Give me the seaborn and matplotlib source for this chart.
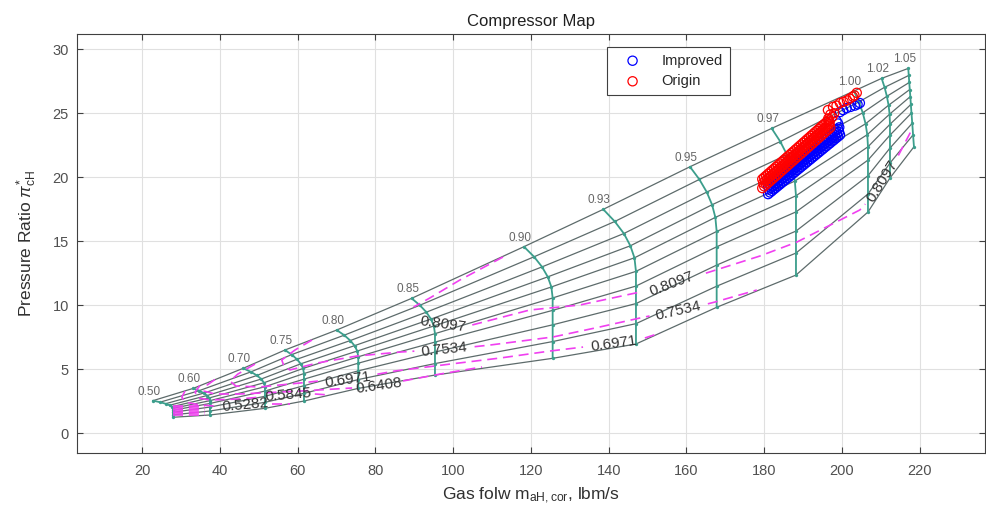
import matplotlib
matplotlib.use("Agg")
import matplotlib.pyplot as plt
import seaborn as sns

# ---------------- data: speed lines (corrected speed), 10 points each ----------------
speed_labels = ["0.50", "0.60", "0.70", "0.75", "0.80", "0.85", "0.90",
                "0.93", "0.95", "0.97", "1.00", "1.02", "1.05"]

flow_n050 = [22.77, 24.59, 26.01, 27.04, 27.68, 27.91, 27.91, 27.91, 27.91, 27.91]
pr_n050 = [2.53, 2.41, 2.29, 2.17, 2.06, 1.93, 1.78, 1.62, 1.42, 1.23]
flow_n060 = [33.13, 34.65, 35.83, 36.68, 37.22, 37.43, 37.43, 37.43, 37.43, 37.43]
pr_n060 = [3.49, 3.31, 3.12, 2.93, 2.74, 2.53, 2.31, 2.03, 1.72, 1.41]
flow_n070 = [45.99, 47.97, 49.52, 50.62, 51.32, 51.58, 51.58, 51.58, 51.58, 51.58]
pr_n070 = [5.06, 4.78, 4.50, 4.22, 3.93, 3.62, 3.28, 2.87, 2.40, 1.93]
flow_n075 = [56.72, 58.44, 59.81, 60.78, 61.38, 61.61, 61.61, 61.61, 61.61, 61.61]
pr_n075 = [6.49, 6.13, 5.77, 5.41, 5.05, 4.65, 4.21, 3.70, 3.10, 2.50]
flow_n080 = [70.02, 71.97, 73.52, 74.62, 75.32, 75.58, 75.58, 75.58, 75.58, 75.58]
pr_n080 = [8.05, 7.65, 7.23, 6.83, 6.41, 5.96, 5.46, 4.86, 4.18, 3.49]
flow_n085 = [89.31, 91.42, 93.09, 94.28, 95.02, 95.31, 95.31, 95.31, 95.31, 95.31]
pr_n085 = [10.53, 9.99, 9.45, 8.91, 8.37, 7.77, 7.11, 6.33, 5.43, 4.53]
flow_n090 = [118.20, 120.80, 122.85, 124.32, 125.25, 125.58, 125.58, 125.58, 125.58, 125.58]
pr_n090 = [14.57, 13.78, 12.99, 12.21, 11.42, 10.56, 9.59, 8.46, 7.15, 5.84]
flow_n093 = [138.60, 141.56, 143.90, 145.57, 146.62, 147.01, 147.01, 147.01, 147.01, 147.01]
pr_n093 = [17.49, 16.54, 15.60, 14.64, 13.70, 12.64, 11.49, 10.12, 8.55, 6.96]
flow_n095 = [160.90, 163.32, 165.22, 166.59, 167.43, 167.77, 167.77, 167.77, 167.77, 167.77]
pr_n095 = [20.82, 19.83, 18.84, 17.85, 16.86, 15.76, 14.56, 13.13, 11.48, 9.83]
flow_n097 = [181.92, 184.13, 185.85, 187.09, 187.88, 188.17, 188.17, 188.17, 188.17, 188.17]
pr_n097 = [23.82, 22.79, 21.76, 20.73, 19.70, 18.55, 17.29, 15.79, 14.07, 12.35]
flow_n100 = [203.09, 204.35, 205.35, 206.07, 206.51, 206.69, 206.69, 206.69, 206.69, 206.69]
pr_n100 = [26.74, 25.89, 25.04, 24.18, 23.33, 22.38, 21.34, 20.12, 18.69, 17.28]
flow_n102 = [210.21, 210.96, 211.55, 211.99, 212.25, 212.35, 212.35, 212.35, 212.35, 212.35]
pr_n102 = [27.73, 27.03, 26.33, 25.63, 24.93, 24.14, 23.29, 22.28, 21.11, 19.94]
flow_n105 = [217.05, 217.18, 217.31, 217.44, 217.59, 217.72, 217.88, 218.08, 218.29, 218.52]
pr_n105 = [28.51, 27.96, 27.41, 26.86, 26.31, 25.69, 25.02, 24.22, 23.31, 22.38]

speed_flows = [flow_n050, flow_n060, flow_n070, flow_n075, flow_n080, flow_n085, flow_n090,
               flow_n093, flow_n095, flow_n097, flow_n100, flow_n102, flow_n105]
speed_prs = [pr_n050, pr_n060, pr_n070, pr_n075, pr_n080, pr_n085, pr_n090,
             pr_n093, pr_n095, pr_n097, pr_n100, pr_n102, pr_n105]

# ---------------- data: efficiency contour pieces ----------------
eff_8097_x = [[112.8, 101.7, 94.0, 89.8],
              [104.9, 119.7, 132.6, 148.0],
              [165.0, 178.9, 188.4, 204.6, 206.0],
              [214.5, 218.2]]
eff_8097_y = [[13.76, 11.96, 10.56, 9.85],
              [8.45, 9.62, 10.01, 11.02],
              [12.50, 13.84, 14.93, 17.44, 17.90],
              [21.70, 23.85]]
eff_7534_x = [[63.67, 59.3, 55.9, 56.5, 58.0, 64.95, 75.2, 86.3, 90.0],
              [105.5, 109.5, 125.7, 137.7, 148.0, 150.5],
              [165.5, 167.3, 178.1]]
eff_7534_y = [[7.27, 6.49, 5.71, 5.20, 4.93, 5.47, 6.02, 6.33, 6.40],
              [6.75, 6.88, 7.51, 8.29, 8.99, 9.15],
              [10.10, 10.24, 11.18]]
eff_6971_x = [[49.0, 44.6, 42.6, 44.1, 50.3, 60.6, 65.2],
              [80.5, 85.0, 99.2, 112.0, 124.9, 133.4],
              [149.3, 153.2]]
eff_6971_y = [[5.39, 4.61, 4.06, 3.67, 3.60, 3.91, 4.06],
              [4.60, 4.85, 5.39, 5.86, 6.41, 6.72],
              [7.43, 7.82]]
eff_6408_x = [[38.7, 36.7, 35.9, 38.7, 45.1, 60.6, 74.0],
              [87.1, 96.6, 107.4]]
eff_6408_y = [[4.18, 3.75, 3.28, 3.05, 3.05, 3.28, 3.52],
              [4.07, 4.61, 5.16]]
eff_5845_x = [[34.85, 33.6, 34.3, 37.4, 45.1, 50.3],
              [64.4, 68.3]]
eff_5845_y = [[3.71, 3.21, 2.74, 2.58, 2.66, 2.81],
              [3.05, 2.97]]
eff_5282_x = [[31.0, 30.2, 31.0, 34.9, 38.7],
              [53.4, 58.0]]
eff_5282_y = [[3.28, 2.81, 2.42, 2.19, 2.11],
              [2.27, 2.27]]
# lower (unlabelled) efficiency levels crowded near the low-speed corner
eff_low_x = [[27.9, 36.1], [27.9, 36.1], [27.9, 36.1], [27.9, 36.1],
             [27.9, 36.1], [27.9, 36.1], [27.9, 36.1]]
eff_low_y = [[2.14, 2.14], [2.02, 2.02], [1.90, 1.90], [1.78, 1.78],
             [1.66, 1.66], [1.54, 1.54], [1.43, 1.43]]

eff_label_text = ["0.8097", "0.8097", "0.8097", "0.7534", "0.7534", "0.6971", "0.6971",
                  "0.6408", "0.5845", "0.5282"]
eff_label_x = [97.3, 156.3, 210.4, 97.6, 157.9, 73.0, 141.3, 80.9, 57.5, 46.4]
eff_label_y = [8.52, 11.65, 19.70, 6.49, 9.56, 4.14, 6.96, 3.67, 2.97, 2.19]
eff_label_rot = [-8, 21, 58, 6, 13, 8, 8, 8, 5, 5]

# ---------------- data: operating points ----------------
improved_flow = ([181.0, 181.5, 182.0, 182.5, 183.0, 183.5, 184.0, 184.5, 185.0, 185.5,
                  186.0, 186.5, 187.0, 187.5, 188.0, 188.5, 189.0, 189.5, 190.0, 190.5,
                  191.0, 191.5, 192.0, 192.5, 193.0, 193.5, 194.0, 194.5, 195.0, 195.5,
                  196.0, 196.5, 197.0, 197.5, 198.0, 198.5, 199.0, 199.5]
                 + [181.25, 181.75, 182.25, 182.75, 183.25, 183.75, 184.25, 184.75, 185.25,
                    185.75, 186.25, 186.75, 187.25, 187.75, 188.25, 188.75, 189.25, 189.75,
                    190.25, 190.75, 191.25, 191.75, 192.25, 192.75, 193.25, 193.75, 194.25,
                    194.75, 195.25, 195.75, 196.25, 196.75, 197.25, 197.75, 198.25, 198.75,
                    199.25]
                 + [181.0, 181.5, 182.0, 182.5, 183.0, 183.5, 184.0, 184.5, 185.0, 185.5,
                    186.0, 186.5, 187.0, 187.5, 188.0, 188.5, 189.0, 189.5, 190.0, 190.5,
                    191.0, 191.5, 192.0, 192.5, 193.0, 193.5, 194.0, 194.5, 195.0, 195.5,
                    196.0, 196.5, 197.0, 197.5, 198.0, 198.5, 199.0]
                 + [199.3, 199.0, 198.6, 199.5, 200.3, 201.2, 202.2, 203.3, 204.0, 204.6])
improved_pr = ([18.68, 18.81, 18.93, 19.06, 19.18, 19.31, 19.43, 19.56, 19.68, 19.81,
                19.93, 20.06, 20.18, 20.31, 20.43, 20.56, 20.68, 20.81, 20.93, 21.06,
                21.18, 21.31, 21.43, 21.56, 21.68, 21.81, 21.93, 22.06, 22.18, 22.31,
                22.43, 22.56, 22.68, 22.81, 22.93, 23.06, 23.18, 23.31]
               + [19.04, 19.17, 19.29, 19.42, 19.54, 19.67, 19.79, 19.92, 20.04, 20.17,
                  20.29, 20.42, 20.54, 20.67, 20.79, 20.92, 21.04, 21.17, 21.29, 21.42,
                  21.54, 21.67, 21.79, 21.92, 22.04, 22.17, 22.29, 22.42, 22.54, 22.67,
                  22.79, 22.92, 23.04, 23.17, 23.29, 23.42, 23.54]
               + [19.28, 19.41, 19.53, 19.66, 19.78, 19.91, 20.03, 20.16, 20.28, 20.41,
                  20.53, 20.66, 20.78, 20.91, 21.03, 21.16, 21.28, 21.41, 21.53, 21.66,
                  21.78, 21.91, 22.03, 22.16, 22.28, 22.41, 22.53, 22.66, 22.78, 22.91,
                  23.03, 23.16, 23.28, 23.41, 23.53, 23.66, 23.78]
               + [23.90, 24.20, 24.40, 25.10, 25.25, 25.40, 25.50, 25.60, 25.70, 25.80])

origin_flow = ([179.5, 180.0, 180.5, 181.0, 181.5, 182.0, 182.5, 183.0, 183.5, 184.0,
                184.5, 185.0, 185.5, 186.0, 186.5, 187.0, 187.5, 188.0, 188.5, 189.0,
                189.5, 190.0, 190.5, 191.0, 191.5, 192.0, 192.5, 193.0, 193.5, 194.0,
                194.5, 195.0, 195.5, 196.0, 196.5, 197.0]
               + [179.75, 180.25, 180.75, 181.25, 181.75, 182.25, 182.75, 183.25, 183.75,
                  184.25, 184.75, 185.25, 185.75, 186.25, 186.75, 187.25, 187.75, 188.25,
                  188.75, 189.25, 189.75, 190.25, 190.75, 191.25, 191.75, 192.25, 192.75,
                  193.25, 193.75, 194.25, 194.75, 195.25, 195.75, 196.25, 196.75]
               + [179.5, 180.0, 180.5, 181.0, 181.5, 182.0, 182.5, 183.0, 183.5, 184.0,
                  184.5, 185.0, 185.5, 186.0, 186.5, 187.0, 187.5, 188.0, 188.5, 189.0,
                  189.5, 190.0, 190.5, 191.0, 191.5, 192.0, 192.5, 193.0, 193.5, 194.0,
                  194.5, 195.0, 195.5, 196.0, 196.5]
               + [196.5, 197.0, 196.8, 197.5, 198.0, 196.4, 197.7, 198.6, 199.5, 200.4,
                  201.3, 202.0, 202.8, 203.8, 203.2])
origin_pr = ([19.15, 19.29, 19.42, 19.56, 19.69, 19.83, 19.96, 20.10, 20.23, 20.37,
              20.50, 20.64, 20.77, 20.91, 21.04, 21.18, 21.31, 21.45, 21.58, 21.72,
              21.85, 21.99, 22.12, 22.26, 22.39, 22.53, 22.66, 22.80, 22.93, 23.07,
              23.20, 23.34, 23.47, 23.61, 23.74, 23.88]
             + [19.57, 19.70, 19.84, 19.97, 20.11, 20.24, 20.38, 20.51, 20.65, 20.78,
                20.92, 21.05, 21.19, 21.32, 21.46, 21.59, 21.73, 21.86, 22.00, 22.13,
                22.27, 22.40, 22.54, 22.67, 22.81, 22.94, 23.08, 23.21, 23.35, 23.48,
                23.62, 23.75, 23.89, 24.02, 24.16]
             + [19.85, 19.99, 20.12, 20.26, 20.39, 20.53, 20.66, 20.80, 20.93, 21.07,
                21.20, 21.34, 21.47, 21.61, 21.74, 21.88, 22.01, 22.15, 22.28, 22.42,
                22.55, 22.69, 22.82, 22.96, 23.09, 23.23, 23.36, 23.50, 23.63, 23.77,
                23.90, 24.04, 24.17, 24.31, 24.44]
             + [24.60, 24.90, 24.30, 24.70, 25.00, 25.25, 25.50, 25.60, 25.80, 25.90,
                26.00, 26.15, 26.30, 26.60, 26.40])

x_ticks = [20, 40, 60, 80, 100, 120, 140, 160, 180, 200, 220]
y_ticks = [0, 5, 10, 15, 20, 25, 30]

# ---------------- styling ----------------
sns.set_theme(style="whitegrid")
plt.rcParams["font.family"] = ["Liberation Sans", "DejaVu Sans"]
plt.rcParams["mathtext.fontset"] = "custom"
plt.rcParams["mathtext.rm"] = "Liberation Sans"
plt.rcParams["mathtext.it"] = "Liberation Sans:italic"
plt.rcParams["mathtext.sf"] = "Liberation Sans"

GREY = "#5d6b6b"
TEAL = "#3c9e8c"
MAG = "#f040f0"
AXC = "#404040"

fig = plt.figure(figsize=(9.87, 5.09), dpi=100)
ax = fig.add_axes([0.0783, 0.1106, 0.9197, 0.8226])
ax.set_facecolor("white")

# beta (grey) lines
n_beta = len(flow_n050)
for j in range(n_beta):
    bx = [f[j] for f in speed_flows]
    by = [p[j] for p in speed_prs]
    sns.lineplot(x=bx, y=by, sort=False, estimator=None, color=GREY, linewidth=0.9,
                 ax=ax, legend=False, zorder=2)

# speed lines (teal) with nodes
for fx, py in zip(speed_flows, speed_prs):
    sns.lineplot(x=fx, y=py, sort=False, estimator=None, color=TEAL, linewidth=1.3,
                 marker="o", markersize=2.4, markeredgewidth=0, ax=ax, legend=False, zorder=3)

for lab, fx, py in zip(speed_labels, speed_flows, speed_prs):
    ax.annotate(lab, (fx[0], py[0]), xytext=(-4, 3), textcoords="offset pixels",
                ha="center", va="bottom", fontsize=8.5, color="#666666", zorder=6)

# efficiency contours
dash = (0, (6, 3.5))
for xs_all, ys_all in [(eff_8097_x, eff_8097_y), (eff_7534_x, eff_7534_y),
                       (eff_6971_x, eff_6971_y), (eff_6408_x, eff_6408_y),
                       (eff_5845_x, eff_5845_y), (eff_5282_x, eff_5282_y),
                       (eff_low_x, eff_low_y)]:
    for xs, ys in zip(xs_all, ys_all):
        sns.lineplot(x=xs, y=ys, sort=False, estimator=None, color=MAG, linewidth=1.2,
                     linestyle=dash, ax=ax, legend=False, zorder=4)

for t, lx, ly, rot in zip(eff_label_text, eff_label_x, eff_label_y, eff_label_rot):
    ax.text(lx, ly, t, rotation=rot, ha="center", va="center", rotation_mode="anchor",
            fontsize=11, color="#333333", zorder=6)

# operating points
sns.scatterplot(x=improved_flow, y=improved_pr, marker="o", s=44, facecolors="none",
                edgecolor="blue", linewidth=0.9, label="Improved", ax=ax, zorder=7)
sns.scatterplot(x=origin_flow, y=origin_pr, marker="o", s=44, facecolors="none",
                edgecolor="red", linewidth=0.9, label="Origin", ax=ax, zorder=8)

# axes cosmetics
ax.set_xlim(3.3, 236.8)
ax.set_ylim(-1.54, 31.2)
ax.set_xticks(x_ticks)
ax.set_yticks(y_ticks)
ax.grid(True, color="#e0e0e0", linewidth=0.8)
for sp in ax.spines.values():
    sp.set_visible(True)
    sp.set_color(AXC)
    sp.set_linewidth(0.8)
ax.tick_params(axis="both", which="both", direction="in", length=4, width=0.8,
               color=AXC, labelcolor="#505050", labelsize=10.5,
               top=True, right=True, bottom=True, left=True)
ax.tick_params(axis="x", pad=8)
ax.tick_params(axis="y", pad=6)

ax.set_title("Compressor Map", fontsize=12, color="#202020", pad=6)
ax.set_xlabel("Gas folw m$_{\\mathrm{aH,cor}}$, lbm/s", fontsize=12.5, color="#303030", labelpad=6)
ax.set_ylabel("Pressure Ratio $\\pi^{*}_{\\mathrm{cH}}$", fontsize=12.5, color="#303030", labelpad=10)

leg = ax.legend(loc="upper left", bbox_to_anchor=(0.5836, 0.969), borderaxespad=0,
                fontsize=10.5, frameon=True, fancybox=False, framealpha=1, edgecolor=AXC,
                borderpad=0.45, handlelength=2.6, handletextpad=0.7, labelspacing=0.45)
leg.get_frame().set_linewidth(0.8)

fig.savefig("out.png", dpi=100)
